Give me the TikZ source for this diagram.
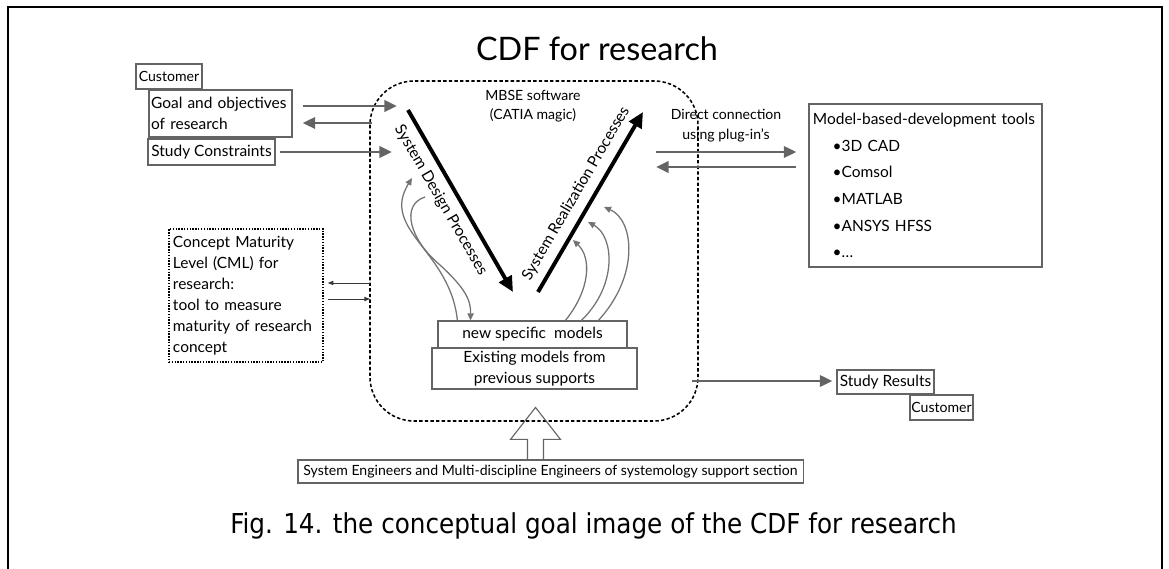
\documentclass[tikz,border=0pt]{standalone}
\usepackage{fontspec}
\setmainfont{Lato}
\newfontfamily\capfont{DejaVu Sans Condensed}
\usetikzlibrary{arrows.meta, positioning, calc}
\definecolor{gray1}{RGB}{100,100,100}
\definecolor{gray2}{RGB}{115,115,115}
\definecolor{gray3}{RGB}{55,55,55}
\tikzset{
  box/.style={draw=gray1, line width=0.8pt, inner sep=0pt, font=\fontsize{11}{14.5}\selectfont},
  smallbox/.style={box, font=\fontsize{10}{12}\selectfont},
  mbsebox/.style={draw, line width=1.1pt, dash pattern=on 2.4pt off 1.6pt, rounded corners=1.1cm},
  cmlbox/.style={box, draw=black, line width=1pt, dash pattern=on 1pt off 1pt, align=left, font=\fontsize{11}{15}\selectfont},
  garrow/.style={draw=gray1, line width=2.1pt, -{Triangle[length=9pt,width=8pt]}},
  barrow/.style={line width=2.8pt, -{Triangle[length=11pt,width=10pt]}},
  carrow/.style={draw=gray2, line width=0.9pt, -{Triangle[length=5pt,width=4.5pt]}},
  tarrow/.style={draw=gray3, line width=0.7pt, -{Triangle[length=4pt,width=3pt]}},
  proclabel/.style={font=\fontsize{11}{13}\selectfont, inner sep=5.5pt},
}

\begin{document}
\begin{tikzpicture}[x=0.025cm, y=-0.025cm]
  \useasboundingbox (0,0) rectangle (1169,569);
  \draw[line width=1pt] (8,569) -- (8,7) -- (1162,7) -- (1162,569);

  \node[font=\fontsize{23}{26}\selectfont, anchor=base] (title) at (597,61) {CDF for research};

  \draw[mbsebox] (370,81) rectangle (698,421);
  \node[align=center, font=\fontsize{10}{13.5}\selectfont] (mbsetxt) at (533,106) {MBSE software\\(CATIA magic)};

  \node[smallbox, minimum width=1.65cm, minimum height=0.625cm] (cust1) at (169,76.5) {Customer};
  \node[box, minimum width=3.575cm, minimum height=1.175cm, text width=3.47cm, inner xsep=0.05cm, align=left] (goal) at (220.5,113.5) {Goal and objectives\\of research};
  \node[box, minimum width=3.175cm, minimum height=0.65cm] (cons) at (211.5,152) {Study Constraints};
  \node[cmlbox, minimum width=3.85cm, minimum height=3.325cm, text width=3.65cm, inner xsep=0.1cm] (cml) at (246,295.5) {Concept Maturity\\Level (CML) for\\research:\\tool to measure\\maturity of research\\concept};

  \node[box, minimum width=5.825cm, minimum height=4.075cm, text width=5.625cm, inner xsep=0.1cm, align=left, font=\fontsize{11}{19}\selectfont] (tools) at (925.5,185.5) {Model-based-development tools\\
    \hspace*{14pt}\textbullet3D CAD\\
    \hspace*{14pt}\textbullet Comsol\\
    \hspace*{14pt}\textbullet MATLAB\\
    \hspace*{14pt}\textbullet ANSYS HFSS\\
    \hspace*{14pt}\textbullet\ldots};

  \node[box, minimum width=4.725cm, minimum height=0.675cm] (newm) at (532.5,334.5) {new specific\ \ models};
  \node[box, minimum width=5.125cm, minimum height=1.025cm, align=center] (exist) at (534.5,368.5) {Existing models from\\previous supports};

  \node[box, minimum width=2.425cm, minimum height=0.6cm] (results) at (885.5,382) {Study Results};
  \node[smallbox, minimum width=1.575cm, minimum height=0.625cm] (cust2) at (941.5,407.5) {Customer};

  \node[box, minimum width=12.625cm, minimum height=0.575cm, font=\fontsize{10}{12}\selectfont] (eng) at (550.5,471.5) {System Engineers and Multi-discipline Engineers of systemology support section};

  \node[align=center, font=\fontsize{10}{14.2}\selectfont] (direct) at (726,126) {Direct connection\\using plug-in’s};

  \coordinate (g1) at (397,106);
  \coordinate (g2) at (372,123);
  \coordinate (s1) at (392,152);
  \draw[garrow, shorten <=0.25cm] (goal.east |- g1) -- (g1);
  \draw[garrow, shorten >=0.25cm] (g2) -- (goal.east |- g2);
  \draw[garrow, shorten <=0.1cm] (cons.east |- s1) -- (s1);

  \coordinate (t1) at (656,152);
  \coordinate (t2) at (656,167);
  \draw[garrow, shorten >=0.3cm] (t1) -- (tools.west |- t1);
  \draw[garrow, shorten <=0.3cm] (tools.west |- t2) -- (t2);

  \coordinate (r1) at (692,381);
  \draw[garrow, shorten >=0.1cm] (r1) -- (results.west |- r1);

  \coordinate (c1) at (370,283);
  \coordinate (c2) at (370,299);
  \draw[tarrow, shorten >=0.1cm] (c1) -- (cml.east |- c1);
  \draw[tarrow, shorten <=0.1cm] (cml.east |- c2) -- (c2);

  \coordinate (sd1) at (408,110);
  \coordinate (sd2) at (513,292);
  \coordinate (sr1) at (538,292);
  \coordinate (sr2) at (643,112);
  \draw[barrow] (sd1) -- node[proclabel, sloped, below, pos=0.45] {System Design Processes} (sd2);
  \draw[barrow] (sr1) -- node[proclabel, sloped, above, pos=0.5] {System Realization Processes} (sr2);

  \draw[carrow] ($(newm.north west)+(20,0)$) .. controls (450,250) and (380,230) .. (412,178);
  \draw[carrow] (425,197) .. controls (400,205) and (410,240) .. (440,265) .. controls (465,288) and (471,300) .. ($(newm.north west)+(33,0)$);
  \draw[carrow] ($(newm.north west)+(128,0)$) .. controls (590,290) and (592,258) .. (573,240);
  \draw[carrow] ($(newm.north west)+(144,0)$) .. controls (618,285) and (614,236) .. (588,222);
  \draw[carrow] ($(newm.north west)+(161,0)$) .. controls (640,275) and (634,220) .. (604,207);

  \coordinate (hb) at ($(eng.north)+(-15,0)$);
  \draw[draw=gray1, line width=0.8pt] (hb) ++(-8,0) -- ++(0,-20) -- ++(-17,0) -- ++(25,-32) -- ++(25,32) -- ++(-17,0) -- ++(0,20);

  \node[font=\capfont\fontsize{19.5}{23}\selectfont, anchor=base west, inner sep=0pt] (caption) at (230,533) {Fig. 14. the conceptual goal image of the CDF for research};
\end{tikzpicture}
\end{document}
